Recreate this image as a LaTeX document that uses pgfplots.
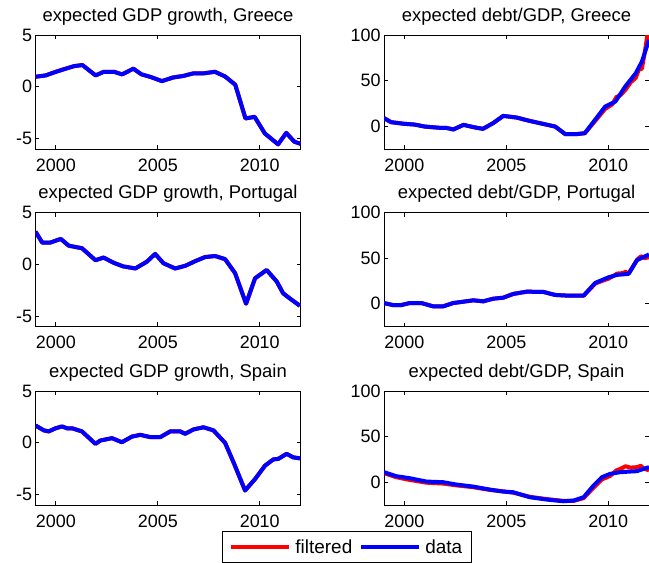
\documentclass[border=0pt]{standalone}
\usepackage{pgfplots}
\pgfplotsset{compat=1.18}
\usepackage{fontspec}
\setmainfont{Liberation Sans}
\definecolor{mred}{RGB}{255,0,0}
\definecolor{mblue}{RGB}{0,0,255}
\pgfplotsset{
  myax/.style={
    scale only axis, width=265bp, height=114bp,
    xmin=1999, xmax=2012,
    xtick={2000,2005,2010},
    /pgf/number format/1000 sep={},
    /pgf/number format/assume math mode=true,
    tick align=inside, major tick length=4bp,
    tick pos=both,
    tick style={line width=0.8bp, black},
    axis line style={line width=0.8bp},
    ticklabel style={font=\fontsize{18}{20}\selectfont},
    xticklabel style={yshift=-6bp},
    title style={font=\fontsize{18.5}{21}\selectfont, anchor=base, at={(0.5,1)}, yshift=8bp},
    every axis plot/.append style={line width=4bp, line join=round, mark=none},
    legend image code/.code={\draw[#1] (0bp,0bp) -- (58bp,0bp);},
  },
  gdp/.style={ymin=-6, ymax=5, ytick={-5,0,5}},
  debt/.style={ymin=-25, ymax=100, ytick={0,50,100}},
}
\begin{document}
\begin{tikzpicture}
\path[use as bounding box] (0,0) rectangle (649bp,-563bp);

% Greece GDP
\begin{axis}[myax, gdp, at={(35.5bp,-35bp)}, anchor=north west, title={expected GDP growth, Greece}]
\addplot[mred] coordinates {(1999.0,0.97)(1999.5,1.1)(2000.0,1.45)(2000.4,1.7)(2000.9,2.0)(2001.3,2.1)(2001.95,1.1)(2002.35,1.45)(2002.85,1.45)(2003.25,1.2)(2003.8,1.75)(2004.2,1.2)(2004.65,0.95)(2005.2,0.55)(2005.75,0.9)(2006.25,1.05)(2006.75,1.3)(2007.25,1.3)(2007.8,1.45)(2008.3,1.0)(2008.8,0.2)(2009.3,-3.05)(2009.75,-2.9)(2010.25,-4.5)(2010.9,-5.55)(2011.3,-4.45)(2011.7,-5.3)(2012.0,-5.5)};
\addplot[mblue] coordinates {(1999.0,0.97)(1999.5,1.1)(2000.0,1.45)(2000.4,1.7)(2000.9,2.0)(2001.3,2.1)(2001.95,1.1)(2002.35,1.45)(2002.85,1.45)(2003.25,1.2)(2003.8,1.75)(2004.2,1.2)(2004.65,0.95)(2005.2,0.55)(2005.75,0.9)(2006.25,1.05)(2006.75,1.3)(2007.25,1.3)(2007.8,1.45)(2008.3,1.0)(2008.8,0.2)(2009.3,-3.05)(2009.75,-2.9)(2010.25,-4.5)(2010.9,-5.55)(2011.3,-4.45)(2011.7,-5.3)(2012.0,-5.5)};
\end{axis}

% Greece debt
\begin{axis}[myax, debt, at={(384bp,-35bp)}, anchor=north west, title={expected debt/GDP, Greece}]
\addplot[mred] coordinates {(1999.0,8.8)(1999.35,4.4)(2000.0,2.6)(2000.5,1.8)(2001.0,-0.4)(2001.75,-1.8)(2002.05,-1.8)(2002.4,-3.6)(2002.9,1.5)(2003.4,-1.1)(2003.85,-2.9)(2004.35,3.3)(2004.85,11.3)(2005.5,9.5)(2006.15,5.8)(2006.65,3.3)(2007.4,-0.4)(2007.9,-8.8)(2008.4,-8.8)(2008.85,-7.7)(2009.35,5.5)(2009.85,19)(2010.2,24)(2010.4,32)(2010.6,34)(2010.85,40)(2011.1,48)(2011.35,53)(2011.5,62)(2011.65,63)(2011.8,82)(2011.92,100)(2012.0,90)};
\addplot[mblue] coordinates {(1999.0,8.8)(1999.35,4.4)(2000.0,2.6)(2000.5,1.8)(2001.0,-0.4)(2001.75,-1.8)(2002.05,-1.8)(2002.4,-3.6)(2002.9,1.5)(2003.4,-1.1)(2003.85,-2.9)(2004.35,3.3)(2004.85,11.3)(2005.5,9.5)(2006.15,5.8)(2006.65,3.3)(2007.4,-0.4)(2007.9,-8.8)(2008.4,-8.8)(2008.85,-7.7)(2009.35,6.9)(2009.85,21.5)(2010.35,27)(2010.85,44)(2011.35,58)(2011.65,70.8)(2012.0,94.5)};
\end{axis}

% Portugal GDP
\begin{axis}[myax, gdp, at={(35.5bp,-212.5bp)}, anchor=north west, title={expected GDP growth, Portugal}]
\addplot[mred] coordinates {(1999.0,3.15)(1999.33,2.1)(1999.73,2.1)(2000.24,2.45)(2000.63,1.8)(2001.28,1.55)(2001.94,0.4)(2002.34,0.65)(2002.83,0.15)(2003.3,-0.2)(2003.9,-0.4)(2004.46,0.25)(2004.87,1.0)(2005.28,0.1)(2005.85,-0.4)(2006.34,-0.15)(2006.83,0.3)(2007.32,0.7)(2007.81,0.8)(2008.3,0.5)(2008.79,-0.85)(2009.33,-3.8)(2009.77,-1.35)(2010.34,-0.55)(2010.83,-1.65)(2011.15,-2.8)(2011.48,-3.3)(2011.97,-4.0)};
\addplot[mblue] coordinates {(1999.0,3.15)(1999.33,2.1)(1999.73,2.1)(2000.24,2.45)(2000.63,1.8)(2001.28,1.55)(2001.94,0.4)(2002.34,0.65)(2002.83,0.15)(2003.3,-0.2)(2003.9,-0.4)(2004.46,0.25)(2004.87,1.0)(2005.28,0.1)(2005.85,-0.4)(2006.34,-0.15)(2006.83,0.3)(2007.32,0.7)(2007.81,0.8)(2008.3,0.5)(2008.79,-0.85)(2009.33,-3.8)(2009.77,-1.35)(2010.34,-0.55)(2010.83,-1.65)(2011.15,-2.8)(2011.48,-3.3)(2011.97,-4.0)};
\end{axis}

% Portugal debt
\begin{axis}[myax, debt, at={(384bp,-212.5bp)}, anchor=north west, title={expected debt/GDP, Portugal}]
\addplot[mred] coordinates {(1999.0,0.7)(1999.44,-1.5)(1999.85,-1.5)(2000.26,0.7)(2000.84,0.7)(2001.41,-2.9)(2001.9,-2.9)(2002.39,0.7)(2002.89,2.2)(2003.38,3.7)(2003.87,2.6)(2004.36,5.5)(2004.85,6.6)(2005.34,10.7)(2006.0,13.2)(2006.82,12.9)(2007.39,9.6)(2008.05,8.8)(2008.79,8.8)(2009.36,22)(2009.7,25)(2010.02,27.5)(2010.3,31)(2010.43,33)(2010.7,33.5)(2010.85,35)(2011.0,33)(2011.41,48)(2011.6,52)(2011.8,50)(2012.0,51)};
\addplot[mblue] coordinates {(1999.0,0.7)(1999.44,-1.5)(1999.85,-1.5)(2000.26,0.7)(2000.84,0.7)(2001.41,-2.9)(2001.9,-2.9)(2002.39,0.7)(2002.89,2.2)(2003.38,3.7)(2003.87,2.6)(2004.36,5.5)(2004.85,6.6)(2005.34,10.7)(2006.0,13.2)(2006.82,12.9)(2007.39,9.6)(2008.05,8.8)(2008.79,8.8)(2009.36,22.8)(2010.02,29)(2010.43,31.6)(2011.0,32.7)(2011.41,47.8)(2012.0,54)};
\end{axis}

% Spain GDP
\begin{axis}[myax, gdp, at={(35.5bp,-391bp)}, anchor=north west, title={expected GDP growth, Spain}]
\addplot[mred] coordinates {(1999.0,1.67)(1999.41,1.2)(1999.65,1.1)(1999.98,1.4)(2000.3,1.58)(2000.55,1.4)(2000.8,1.4)(2001.28,1.1)(2001.94,-0.1)(2002.18,0.22)(2002.75,0.45)(2003.24,0.06)(2003.73,0.6)(2004.14,0.77)(2004.63,0.55)(2005.12,0.55)(2005.61,1.1)(2006.1,1.1)(2006.34,0.87)(2006.75,1.29)(2007.24,1.5)(2007.73,1.2)(2008.3,0.0)(2008.71,-1.86)(2009.28,-4.6)(2009.77,-3.5)(2010.26,-2.2)(2010.67,-1.6)(2010.91,-1.55)(2011.32,-1.06)(2011.64,-1.4)(2011.97,-1.5)};
\addplot[mblue] coordinates {(1999.0,1.67)(1999.41,1.2)(1999.65,1.1)(1999.98,1.4)(2000.3,1.58)(2000.55,1.4)(2000.8,1.4)(2001.28,1.1)(2001.94,-0.1)(2002.18,0.22)(2002.75,0.45)(2003.24,0.06)(2003.73,0.6)(2004.14,0.77)(2004.63,0.55)(2005.12,0.55)(2005.61,1.1)(2006.1,1.1)(2006.34,0.87)(2006.75,1.29)(2007.24,1.5)(2007.73,1.2)(2008.3,0.0)(2008.71,-1.86)(2009.28,-4.6)(2009.77,-3.5)(2010.26,-2.2)(2010.67,-1.6)(2010.91,-1.55)(2011.32,-1.06)(2011.64,-1.4)(2011.97,-1.5)};
\end{axis}

% Spain debt
\begin{axis}[myax, debt, at={(384bp,-391bp)}, anchor=north west, title={expected debt/GDP, Spain},
  legend columns=2,
  legend style={at={(axis description cs:-0.611,-0.228)}, anchor=north west,
    draw=black, line width=0.8bp, fill=white,
    font=\fontsize{19}{21}\selectfont,
    inner xsep=7bp, inner ysep=6bp,
    /tikz/every odd column/.append style={column sep=2bp},
    /tikz/every even column/.append style={column sep=5bp}},
  ]
\addplot[mred] coordinates {(1999.0,10)(1999.6,5.5)(2000.26,2.5)(2001.08,-0.5)(2001.9,-1.5)(2002.56,-3.5)(2003.38,-5.5)(2004.2,-8.5)(2004.85,-10)(2005.34,-11.5)(2006.16,-16)(2006.98,-18.5)(2007.8,-20.5)(2008.3,-20.5)(2008.79,-17.5)(2009.28,-6)(2009.69,3)(2010.1,7)(2010.4,13)(2010.59,14.5)(2010.85,17.5)(2011.08,16)(2011.41,16.5)(2011.6,18)(2011.74,15)(2012.0,13)};
\addlegendentry{filtered}
\addplot[mblue] coordinates {(1999.0,11)(1999.6,6.6)(2000.26,4.4)(2001.08,0.7)(2001.9,0)(2002.56,-2.6)(2003.38,-4.8)(2004.2,-8.1)(2004.85,-10.3)(2005.34,-11)(2006.16,-16.5)(2006.98,-19)(2007.8,-20.9)(2008.3,-20.1)(2008.79,-16.5)(2009.28,-3.7)(2009.69,5.5)(2010.1,9.2)(2010.59,11)(2011.08,11.7)(2011.41,12.1)(2011.74,14.7)(2012.0,16.5)};
\addlegendentry{data}
\end{axis}
\end{tikzpicture}
\end{document}
